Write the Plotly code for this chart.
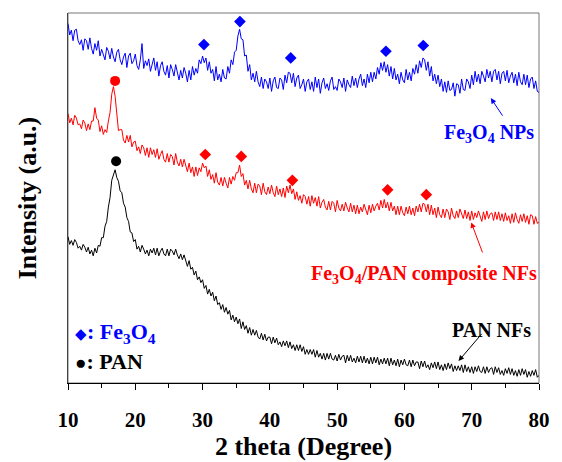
import numpy as np
import plotly.graph_objects as go

# 2-theta sampling grid (degrees)
two_theta = np.round(np.arange(10, 80.001, 0.25), 2)

# Intensities (a.u.) (stacked/offset curves)
fe3o4_nps = [
376, 364, 369, 358, 369, 370, 358, 354, 359, 348, 360, 358, 349, 361, 350, 344,
355, 348, 358, 342, 349, 342, 338, 351, 347, 339, 350, 341, 336, 346, 349, 338,
333, 341, 345, 330, 342, 345, 334, 337, 344, 332, 328, 338, 355, 329, 337, 332,
339, 326, 333, 340, 327, 336, 321, 332, 336, 326, 322, 332, 319, 333, 328, 321,
333, 323, 317, 327, 319, 330, 324, 315, 327, 317, 331, 322, 329, 324, 338, 334,
342, 335, 340, 327, 336, 324, 328, 316, 331, 317, 323, 315, 328, 319, 318, 331,
324, 338, 333, 346, 348, 363, 370, 360, 359, 342, 343, 326, 333, 317, 324, 315,
326, 315, 310, 320, 308, 318, 315, 308, 319, 305, 316, 320, 309, 308, 319, 317,
307, 322, 314, 325, 324, 314, 324, 310, 319, 322, 308, 312, 318, 305, 315, 318,
307, 315, 305, 320, 309, 318, 303, 314, 319, 308, 313, 306, 316, 320, 307, 310,
306, 318, 315, 309, 319, 305, 317, 312, 309, 321, 311, 319, 309, 318, 323, 311,
318, 309, 323, 314, 325, 315, 325, 318, 330, 323, 335, 327, 336, 325, 333, 321,
331, 318, 329, 317, 323, 313, 325, 317, 314, 328, 317, 325, 316, 329, 323, 333,
324, 337, 330, 340, 338, 327, 336, 321, 331, 316, 323, 313, 322, 310, 318, 305,
315, 304, 316, 306, 307, 314, 300, 313, 312, 303, 318, 307, 306, 318, 315, 308,
322, 312, 326, 315, 323, 313, 326, 321, 315, 328, 319, 326, 315, 326, 328, 317,
326, 313, 324, 326, 316, 327, 314, 321, 325, 314, 323, 311, 325, 315, 312, 323,
312, 322, 309, 318, 320, 308, 316, 305, 304]

composite_nfs = [
282, 272, 277, 270, 280, 277, 270, 271, 266, 275, 272, 264, 271, 265, 274, 274,
288, 277, 275, 263, 269, 260, 265, 262, 274, 283, 302, 310, 300, 283, 264, 265,
265, 254, 251, 259, 252, 259, 247, 252, 253, 243, 247, 240, 249, 246, 238, 246,
236, 246, 239, 244, 236, 245, 234, 239, 243, 234, 231, 240, 231, 239, 237, 228,
240, 231, 227, 234, 226, 234, 227, 221, 230, 220, 226, 216, 226, 217, 225, 221,
230, 225, 227, 216, 223, 213, 218, 209, 220, 210, 207, 215, 206, 215, 209, 204,
215, 208, 216, 212, 220, 220, 228, 216, 219, 207, 212, 203, 212, 203, 199, 209,
199, 208, 206, 197, 209, 200, 197, 205, 198, 207, 199, 195, 206, 197, 203, 195,
204, 194, 206, 199, 207, 198, 203, 192, 200, 191, 196, 188, 197, 195, 187, 195,
185, 196, 188, 194, 185, 195, 183, 189, 192, 184, 181, 190, 181, 190, 188, 179,
191, 183, 180, 187, 180, 189, 183, 179, 188, 179, 186, 177, 186, 177, 184, 179,
187, 180, 176, 186, 178, 187, 180, 185, 188, 181, 191, 183, 192, 183, 189, 180,
189, 180, 185, 176, 185, 176, 185, 178, 175, 184, 177, 185, 176, 183, 175, 185,
179, 187, 179, 188, 187, 179, 187, 176, 186, 176, 183, 173, 184, 176, 173, 182,
173, 182, 179, 171, 183, 175, 172, 180, 173, 182, 176, 172, 181, 172, 179, 170,
180, 171, 178, 173, 180, 173, 169, 179, 171, 180, 172, 177, 178, 170, 179, 171,
179, 170, 177, 169, 178, 170, 175, 167, 177, 168, 178, 171, 167, 176, 169, 177,
168, 175, 166, 176, 175, 166, 174, 167, 168]

pan_nfs = [
153, 145, 149, 144, 150, 147, 141, 143, 139, 145, 142, 137, 142, 135, 139, 133,
141, 136, 144, 143, 152, 152, 164, 169, 184, 194, 212, 217, 223, 215, 211, 201,
199, 188, 184, 173, 169, 158, 157, 148, 150, 140, 143, 137, 144, 140, 135, 139,
133, 140, 136, 141, 134, 141, 133, 138, 141, 135, 133, 140, 133, 140, 138, 134,
140, 134, 130, 135, 129, 134, 127, 122, 128, 119, 121, 113, 117, 108, 111, 105,
108, 99, 102, 93, 98, 91, 95, 86, 91, 82, 84, 77, 82, 74, 79, 72,
76, 66, 71, 64, 69, 62, 67, 57, 64, 56, 60, 52, 58, 50, 56, 50,
55, 48, 46, 52, 45, 51, 44, 48, 48, 41, 48, 42, 47, 40, 43, 38,
44, 39, 44, 37, 43, 36, 40, 34, 40, 34, 40, 33, 38, 30, 35, 30,
35, 30, 35, 27, 34, 27, 31, 25, 31, 24, 31, 25, 31, 25, 24, 29,
23, 30, 24, 28, 29, 21, 29, 23, 29, 22, 26, 21, 28, 22, 28, 21,
28, 21, 26, 20, 27, 20, 27, 21, 27, 19, 25, 20, 26, 20, 26, 18,
26, 19, 24, 18, 25, 17, 24, 19, 25, 19, 18, 24, 17, 24, 18, 22,
22, 15, 23, 17, 23, 16, 19, 14, 21, 16, 22, 15, 22, 14, 19, 13,
20, 14, 21, 15, 20, 12, 18, 13, 18, 13, 19, 11, 19, 12, 17, 11,
17, 10, 17, 12, 18, 12, 11, 17, 10, 17, 11, 15, 16, 9, 17, 11,
16, 9, 13, 8, 15, 10, 16, 9, 15, 8, 13, 7, 14, 8, 15, 9,
14, 6, 12, 7, 13, 8, 14, 6, 8]

# Peak markers
nps_fe3o4_peaks_x = [30.2, 35.55, 43.1, 57.25, 62.8]
nps_fe3o4_peaks_y = [354, 378, 340, 347, 353]
comp_fe3o4_peaks_x = [30.4, 35.75, 43.35, 57.5, 63.25]
comp_fe3o4_peaks_y = [239, 237, 212, 202, 197]
comp_pan_peak_x = [17.0]
comp_pan_peak_y = [316]
pan_peak_x = [17.15]
pan_peak_y = [232]

x_ticks = [10, 20, 30, 40, 50, 60, 70, 80]

FONT = "Liberation Serif, Times New Roman, Times, serif"
BLUE = "#0000ff"
RED = "#ff0000"
BLACK = "#000000"

fig = go.Figure()
for ys, col in [(pan_nfs, BLACK), (composite_nfs, RED), (fe3o4_nps, BLUE)]:
    fig.add_trace(go.Scatter(x=two_theta, y=ys, mode="lines",
                             line=dict(color=col, width=1), showlegend=False,
                             hoverinfo="skip"))

fig.add_trace(go.Scatter(x=nps_fe3o4_peaks_x, y=nps_fe3o4_peaks_y, mode="markers",
                         marker=dict(symbol="diamond", size=9, color=BLUE), showlegend=False))
fig.add_trace(go.Scatter(x=comp_fe3o4_peaks_x, y=comp_fe3o4_peaks_y, mode="markers",
                         marker=dict(symbol="diamond", size=9, color=RED), showlegend=False))
fig.add_trace(go.Scatter(x=comp_pan_peak_x, y=comp_pan_peak_y, mode="markers",
                         marker=dict(symbol="circle", size=10, color=RED), showlegend=False))
fig.add_trace(go.Scatter(x=pan_peak_x, y=pan_peak_y, mode="markers",
                         marker=dict(symbol="circle", size=10, color=BLACK), showlegend=False))

# Frame (top/right in gray)
fig.add_shape(type="rect", xref="paper", yref="paper", x0=0, x1=1, y0=0, y1=1,
              line=dict(color="#777777", width=1), layer="below")

# Arrows
arrows = [(72.84, 298, 74.73, 278, BLUE),
          (69.93, 168, 71.68, 135, RED),
          (68.04, 23, 71.68, 53, BLACK)]
for hx, hy, tx, ty, col in arrows:
    fig.add_annotation(x=hx, y=hy, ax=tx, ay=ty, xref="x", yref="y", axref="x", ayref="y",
                       text="", showarrow=True, arrowhead=2, arrowsize=1.1, arrowwidth=1,
                       arrowcolor=col)

labels = [
    (72.6, 261, "<b>Fe<sub>3</sub>O<sub>4</sub> NPs</b>", BLUE),
    (62.97, 113, "<b>Fe<sub>3</sub>O<sub>4</sub>/PAN composite NFs</b>", RED),
    (72.9, 55, "<b>PAN NFs</b>", BLACK),
]
for x, y, t, col in labels:
    fig.add_annotation(x=x, y=y, xref="x", yref="y", text=t, showarrow=False,
                       font=dict(family=FONT, size=20, color=col),
                       xanchor="center", yanchor="middle")

# Symbol key
fig.add_annotation(x=0.01, y=52, xref="paper", yref="y", xanchor="left", yanchor="middle",
                   text="<span style='font-size:15px'>◆</span><b>: Fe<sub>3</sub>O<sub>4</sub></b>",
                   showarrow=False, font=dict(family=FONT, size=22, color=BLUE))
fig.add_annotation(x=0.01, y=22, xref="paper", yref="y", xanchor="left", yanchor="middle",
                   text="<span style='font-size:19px'>●</span><b>: PAN</b>",
                   showarrow=False, font=dict(family=FONT, size=22, color=BLACK))

fig.update_layout(
    width=562, height=462,
    margin=dict(l=68, r=13, t=13, b=62),
    paper_bgcolor="white", plot_bgcolor="white",
    font=dict(family=FONT, color="black"),
    xaxis=dict(range=[10, 80], tickvals=x_ticks, ticks="outside", ticklen=6, tickwidth=1,
               tickcolor="black", showline=True, linecolor="black", linewidth=1,
               showgrid=False, zeroline=False, ticklabelstandoff=12,
               minor=dict(dtick=5, tick0=10, ticks="outside", ticklen=4, tickcolor="black"),
               tickfont=dict(family=FONT, size=21, color="black", weight="bold"),
               title=dict(text="<b>2 theta (Degree)</b>", standoff=0,
                          font=dict(family=FONT, size=26, color="black"))),
    yaxis=dict(range=[0, 387], showticklabels=False, ticks="", showline=True,
               linecolor="#444444", linewidth=1, showgrid=False, zeroline=False,
               title=dict(text="<b>Intensity (a.u.)</b>", standoff=22,
                          font=dict(family=FONT, size=26, color="black"))),
)

fig.write_html("out.html")
